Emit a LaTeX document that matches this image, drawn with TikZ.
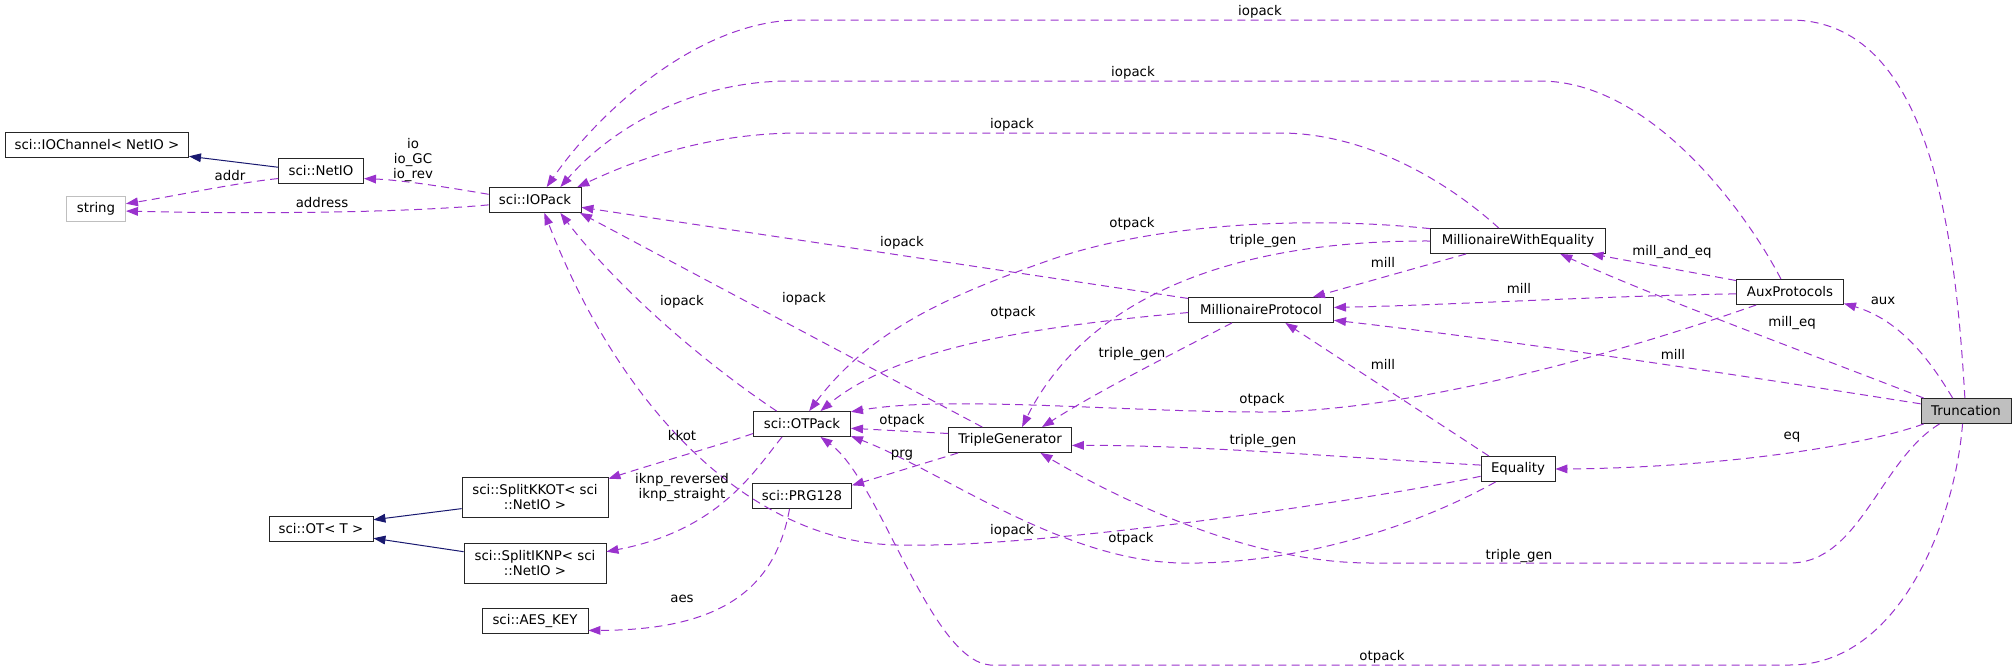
\documentclass[tikz,border=0pt]{standalone}
\usepackage{fontspec}
\setmainfont{DejaVu Sans}
\usetikzlibrary{arrows.meta}
\definecolor{edgepurple}{HTML}{9A32CD}
\definecolor{inhblue}{HTML}{191970}
\definecolor{nodegray}{HTML}{BFBFBF}
\begin{document}
\begin{tikzpicture}[x=0.75pt,y=-0.75pt,font=\fontsize{10}{11.25}\selectfont,
  box/.style={draw=black!85,line width=0.65pt,fill=white,inner sep=1pt,minimum height=18.75pt,align=center},
  box2/.style={box,minimum height=30pt},
  lbl/.style={inner sep=0pt,align=center},
  member/.style={edgepurple,line width=0.75pt,dash pattern=on 6pt off 4pt,-{Triangle[length=9pt,width=6.5pt]}},
  inherit/.style={inhblue,line width=0.75pt,-{Triangle[length=9pt,width=6.5pt]}}]
\useasboundingbox (0,0) rectangle (2016,671);
\node[box,minimum width=137.3pt] (ioch) at (97,145) {sci::IOChannel< NetIO >};
\node[box,minimum width=63.8pt] (netio) at (321,171) {sci::NetIO};
\node[box,draw=nodegray,minimum width=44.3pt] (str) at (96,209) {string};
\node[box,minimum width=69pt] (iopack) at (535,200) {sci::IOPack};
\node[box,minimum width=78pt] (ot) at (321,529) {sci::OT< T >};
\node[box2,minimum width=109.5pt] (kkot) at (535,497) {sci::SplitKKOT< sci\\::NetIO >};
\node[box2,minimum width=106.5pt] (iknp) at (535,563) {sci::SplitIKNP< sci\\::NetIO >};
\node[box,minimum width=79.5pt] (aeskey) at (535,621) {sci::AES\_KEY};
\node[box,minimum width=72.8pt] (otpack) at (802,424) {sci::OTPack};
\node[box,minimum width=74.3pt] (prg) at (802,496) {sci::PRG128};
\node[box,minimum width=92.3pt] (tgen) at (1010,440) {TripleGenerator};
\node[box,minimum width=108.8pt] (mill) at (1261,310) {MillionaireProtocol};
\node[box,minimum width=131.3pt] (milleq) at (1518,241) {MillionaireWithEquality};
\node[box,minimum width=80.3pt] (aux) at (1790,292) {AuxProtocols};
\node[box,minimum width=55.5pt] (eq) at (1518,469) {Equality};
\node[box,fill=nodegray,minimum width=67.5pt] (trunc) at (1966,411) {Truncation};

\draw[inherit] (netio.175) -- (ioch.353);
\draw[inherit] (kkot.189) -- (ot.10);
\draw[inherit] (iknp.171) -- (ot.350);

\draw[member] (netio.190) .. controls (235,183) and (175,196) .. (str.10);
\draw[member] (iopack.186) .. controls (400,213) and (250,214) .. (str.356);
\draw[member] (iopack.173) .. controls (440,186) and (400,180) .. (netio.350);
\draw[member] (trunc.95) .. controls (1955,230) and (1930,20) .. (1790,20) -- (800,20) .. controls (700,20) and (600,110) .. (iopack.48);
\draw[member] (aux.125) .. controls (1745,210) and (1650,81) .. (1540,81) -- (790,81) .. controls (690,81) and (610,130) .. (iopack.27);
\draw[member] (milleq.146) .. controls (1440,175) and (1360,133) .. (1280,133) -- (800,133) .. controls (700,133) and (625,165) .. (iopack.17);
\draw[member] (mill.171) -- (iopack.351);
\draw[member] (otpack.153) .. controls (700,360) and (615,285) .. (iopack.333);
\draw[member] (tgen.155) -- (iopack.344);
\draw[member] (eq.191) .. controls (1370,500) and (1040,548) .. (907,545) .. controls (760,548) and (625,420) .. (iopack.306);
\draw[member] (milleq.172) .. controls (1300,215) and (1150,225) .. (1050,260) .. controls (950,295) and (870,330) .. (otpack.61);
\draw[member] (mill.182) .. controls (1050,325) and (900,345) .. (otpack.35);
\draw[member] (tgen.174) -- (otpack.355);
\draw[member] (aux.201) .. controls (1600,360) and (1400,412) .. (1262,412) .. controls (1120,412) and (950,395) .. (otpack.14);
\draw[member] (eq.210) .. controls (1400,535) and (1280,565) .. (1180,563) .. controls (1060,560) and (940,470) .. (otpack.346);
\draw[member] (trunc.255) .. controls (1955,520) and (1900,665) .. (1790,665) -- (990,665) .. controls (930,660) and (880,480) .. (otpack.325);
\draw[member] (otpack.191) .. controls (720,445) and (650,465) .. (kkot.14);
\draw[member] (otpack.213) .. controls (755,470) and (720,530) .. (iknp.9);
\draw[member] (prg.226) .. controls (775,590) and (720,630) .. (aeskey.350);
\draw[member] (tgen.194) -- (prg.12);
\draw[member] (milleq.180) .. controls (1180,240) and (1070,330) .. (tgen.47);
\draw[member] (mill.204) .. controls (1180,350) and (1100,390) .. (tgen.22);
\draw[member] (eq.174) .. controls (1350,458) and (1200,445) .. (tgen.355);
\draw[member] (trunc.206) .. controls (1880,460) and (1860,563) .. (1790,563) -- (1370,563) .. controls (1250,563) and (1120,500) .. (tgen.337);
\draw[member] (milleq.194) -- (mill.14);
\draw[member] (aux.182) .. controls (1600,296) and (1450,305) .. (mill.2);
\draw[member] (eq.156) -- (mill.332);
\draw[member] (trunc.171) .. controls (1800,385) and (1550,345) .. (mill.352);
\draw[member] (aux.168) -- (milleq.350);
\draw[member] (trunc.163) .. controls (1800,350) and (1650,295) .. (milleq.343);
\draw[member] (trunc.136) .. controls (1930,360) and (1900,320) .. (aux.348);
\draw[member] (trunc.197) .. controls (1850,450) and (1700,468) .. (eq.0);

\node[lbl] (l-addr) at (230,176) {addr};
\node[lbl] (l-address) at (322,203) {address};
\node[lbl] (l-io) at (413,160) {io\\io\_GC\\io\_rev};
\node[lbl] (l-iopack1) at (1260,12) {iopack};
\node[lbl] (l-iopack2) at (1133,73) {iopack};
\node[lbl] (l-iopack3) at (1012,125) {iopack};
\node[lbl] (l-iopack4) at (902,243) {iopack};
\node[lbl] (l-iopack5) at (682,302) {iopack};
\node[lbl] (l-iopack6) at (804,299) {iopack};
\node[lbl] (l-iopack7) at (1012,531) {iopack};
\node[lbl] (l-otpack1) at (1132,224) {otpack};
\node[lbl] (l-otpack2) at (1013,313) {otpack};
\node[lbl] (l-otpack3) at (902,421) {otpack};
\node[lbl] (l-otpack4) at (1262,400) {otpack};
\node[lbl] (l-otpack5) at (1131,539) {otpack};
\node[lbl] (l-otpack6) at (1382,657) {otpack};
\node[lbl] (l-kkot) at (682,436) {kkot};
\node[lbl] (l-iknp) at (682,488) {iknp\_reversed\\iknp\_straight};
\node[lbl] (l-aes) at (682,599) {aes};
\node[lbl] (l-prg) at (902,455) {prg};
\node[lbl] (l-tgen1) at (1263,241) {triple\_gen};
\node[lbl] (l-tgen2) at (1132,354) {triple\_gen};
\node[lbl] (l-tgen3) at (1263,441) {triple\_gen};
\node[lbl] (l-tgen4) at (1519,556) {triple\_gen};
\node[lbl] (l-mill1) at (1383,262) {mill};
\node[lbl] (l-mill2) at (1519,288) {mill};
\node[lbl] (l-mill3) at (1383,364) {mill};
\node[lbl] (l-mill4) at (1673,354) {mill};
\node[lbl] (l-milleq) at (1672,252) {mill\_and\_eq};
\node[lbl] (l-milleq2) at (1792,323) {mill\_eq};
\node[lbl] (l-aux) at (1883,301) {aux};
\node[lbl] (l-eq) at (1792,437) {eq};
\end{tikzpicture}
\end{document}
